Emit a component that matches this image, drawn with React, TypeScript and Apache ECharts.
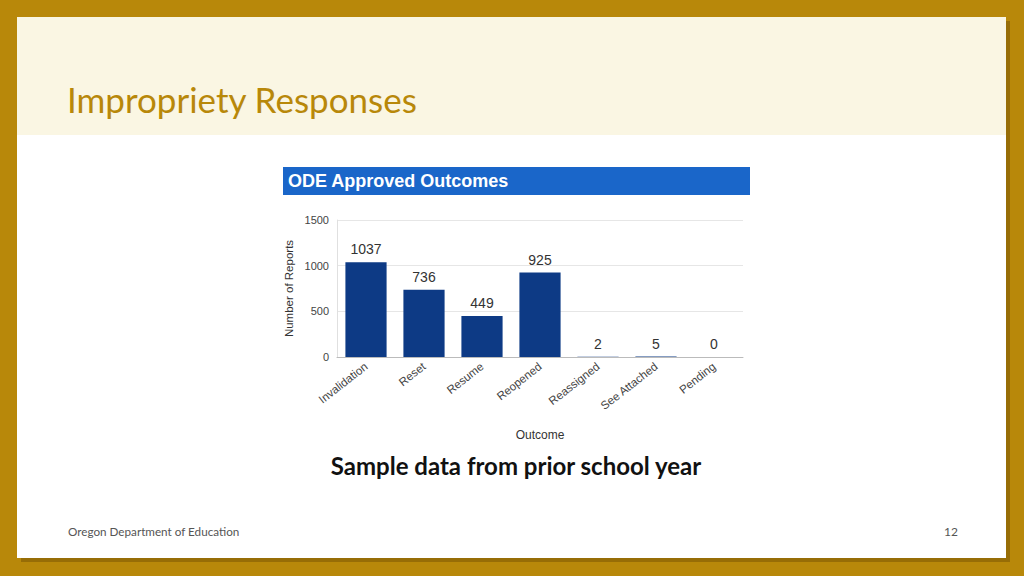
import React, { useEffect, useRef } from "react";
import * as echarts from "echarts";

const categories = ["Invalidation", "Reset", "Resume", "Reopened", "Reassigned", "See Attached", "Pending"];
const reports = [1037, 736, 449, 925, 2, 5, 0];
const yTicks = { min: 0, max: 1500, interval: 500 };

const GOLD = "#B8880A";
const ARIAL = "'Liberation Sans', Arial, sans-serif";

export default function App() {
  const ref = useRef<HTMLDivElement>(null);
  useEffect(() => {
    if (!ref.current) return;
    const chart = echarts.init(ref.current, undefined, { renderer: "svg" });
    chart.setOption({
      animation: false,
      backgroundColor: GOLD,
      graphic: [
        { type: "rect", z: 0, shape: { x: 21, y: 21, width: 989, height: 541 }, style: { fill: "rgba(90,60,0,0.35)" } },
        { type: "rect", z: 0, shape: { x: 17, y: 17, width: 989, height: 541 }, style: { fill: "#ffffff" } },
        { type: "rect", z: 0, shape: { x: 17, y: 17, width: 989, height: 118 }, style: { fill: "#FAF6E3" } },
        { type: "text", z: 1, x: 67, y: 99, style: { text: "Impropriety Responses", fill: GOLD, font: "35px Lato, 'Open Sans', sans-serif", textVerticalAlign: "middle" } },
        { type: "rect", z: 1, shape: { x: 283, y: 167, width: 467, height: 28 }, style: { fill: "#1A66C9" } },
        { type: "text", z: 2, x: 288, y: 181, style: { text: "ODE Approved Outcomes", fill: "#ffffff", font: "bold 18px " + ARIAL, textVerticalAlign: "middle" } },
        { type: "text", z: 1, x: 516, y: 465, style: { text: "Sample data from prior school year", fill: "#111111", font: "bold 24px Lato, 'Open Sans', sans-serif", textAlign: "center", textVerticalAlign: "middle" } },
        { type: "text", z: 1, x: 68, y: 531, style: { text: "Oregon Department of Education", fill: "#555555", font: "11.7px Lato, 'Open Sans', sans-serif", textVerticalAlign: "middle" } },
        { type: "text", z: 1, x: 958, y: 531, style: { text: "12", fill: "#555555", font: "12px Lato, 'Open Sans', sans-serif", textAlign: "right", textVerticalAlign: "middle" } }
      ],
      grid: { left: 337, right: 281, top: 220, bottom: 219, containLabel: false },
      xAxis: {
        type: "category",
        data: categories,
        name: "Outcome",
        nameLocation: "middle",
        nameGap: 72,
        nameTextStyle: { color: "#333", fontSize: 12, fontFamily: ARIAL },
        axisLine: { lineStyle: { color: "#bbbbbb" } },
        axisTick: { show: false },
        axisLabel: { rotate: 38, color: "#444", fontSize: 11.5, margin: 8, fontFamily: ARIAL }
      },
      yAxis: {
        type: "value",
        min: yTicks.min,
        max: yTicks.max,
        interval: yTicks.interval,
        name: "Number of Reports",
        nameLocation: "middle",
        nameGap: 42,
        nameTextStyle: { color: "#333", fontSize: 11.5, fontFamily: ARIAL },
        axisLine: { show: true, lineStyle: { color: "#e0e0e0" } },
        axisTick: { show: false },
        axisLabel: { color: "#444", fontSize: 11, margin: 8, fontFamily: ARIAL, formatter: (v: number) => String(v) },
        splitLine: { lineStyle: { color: "#e6e6e6" } }
      },
      series: [
        {
          type: "bar",
          data: reports,
          barWidth: "71%",
          itemStyle: { color: "#0D3A85" },
          label: { show: true, position: "top", distance: 6, color: "#333", fontSize: 14, fontFamily: ARIAL }
        }
      ]
    });
    return () => chart.dispose();
  }, []);
  return <div ref={ref} style={{ position: "fixed", left: 0, top: 0, width: 1024, height: 576 }} />;
}
